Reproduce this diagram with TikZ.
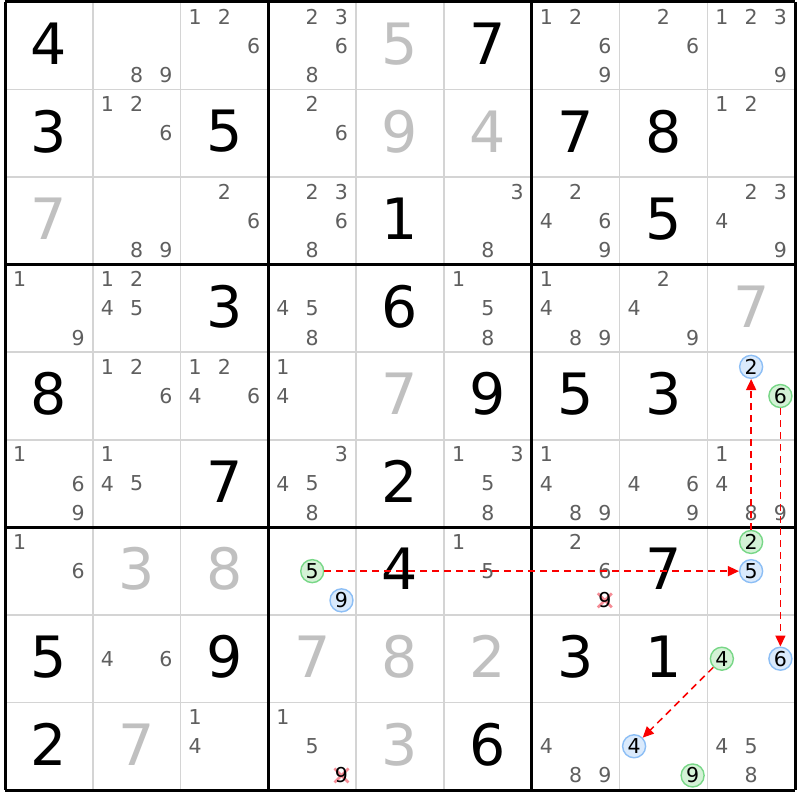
\documentclass[tikz,border=0pt]{standalone}
\usepackage{fontspec}
\setmainfont{DejaVu Sans}
\usetikzlibrary{arrows.meta,calc}
\definecolor{candgray}{RGB}{95,95,95}
\definecolor{solvedgray}{RGB}{192,192,192}
\definecolor{gridgray}{RGB}{212,212,212}
\definecolor{bluefill}{RGB}{218,234,252}
\definecolor{blueline}{RGB}{140,190,245}
\definecolor{greenfill}{RGB}{212,242,214}
\definecolor{greenline}{RGB}{120,215,135}
\definecolor{linkred}{RGB}{250,0,0}
\definecolor{crossred}{RGB}{245,140,150}
\tikzset{
  declare function={
    cx(\c)=5+(\c-0.5)*87.78;
    cy(\r)=2+(\r-0.5)*87.56;
    kx(\c,\d)=5+(\c-1)*87.78+(mod(\d-1,3)+0.5)*29.26;
    ky(\r,\d)=2+(\r-1)*87.56+(floor((\d-1)/3)+0.5)*29.19;
  },
  givenstyle/.style={inner sep=0pt, font=\fontsize{57}{57}\selectfont, text=black},
  solvedstyle/.style={inner sep=0pt, font=\fontsize{57}{57}\selectfont, text=solvedgray},
  candstyle/.style={inner sep=0pt, font=\fontsize{20.5}{20.5}\selectfont, text=candgray},
  blackcand/.style={inner sep=0pt, font=\fontsize{20.5}{20.5}\selectfont, text=black},
  bluec/.style={circle, inner sep=0pt, minimum size=23pt, draw=blueline, fill=bluefill, line width=1.4pt, font=\fontsize{20.5}{20.5}\selectfont, text=black},
  greenc/.style={circle, inner sep=0pt, minimum size=23pt, draw=greenline, fill=greenfill, line width=1.4pt, font=\fontsize{20.5}{20.5}\selectfont, text=black},
  thinline/.style={draw=gridgray, line width=1.5pt},
  thickline/.style={draw=black, line width=3pt},
  crossline/.style={draw=crossred, line width=2.6pt},
  linkarrow/.style={draw=linkred, line width=1.5pt, dash pattern=on 7pt off 5pt, -{Triangle[length=11pt,width=10pt]}},
}
\newcommand{\givendig}[3]{\node[givenstyle] (g#1#2) at ({cx(#2)},{cy(#1)-2}) {#3};}
\newcommand{\solveddig}[3]{\node[solvedstyle] (s#1#2) at ({cx(#2)},{cy(#1)-2}) {#3};}
\newcommand{\cands}[3]{\foreach \d in {#3} {\node[candstyle] (k#1#2\d) at ({kx(#2,\d)},{ky(#1,\d)}) {\d};}}
\newcommand{\bluecand}[3]{\node[bluec] (b#1#2#3) at ({kx(#2,#3)},{ky(#1,#3)}) {#3};}
\newcommand{\greencand}[3]{\node[greenc] (e#1#2#3) at ({kx(#2,#3)},{ky(#1,#3)}) {#3};}
\newcommand{\crossedcand}[3]{%
  \coordinate (x#1#2#3) at ({kx(#2,#3)},{ky(#1,#3)});
  \draw[crossline] ($(x#1#2#3)+(-7,-7)$) -- ($(x#1#2#3)+(7,7)$);
  \draw[crossline] ($(x#1#2#3)+(-7,7)$) -- ($(x#1#2#3)+(7,-7)$);
  \node[blackcand] (k#1#2#3) at (x#1#2#3) {#3};}
\begin{document}
\begin{tikzpicture}[x=1pt,y=-1pt]
\useasboundingbox (0,0) rectangle (800,800);
\fill[white] (0,0) rectangle (800,800);
% grid
\foreach \i in {1,2,4,5,7,8} {
  \draw[thinline] ({5+\i*87.78},2) -- ({5+\i*87.78},790.04);
  \draw[thinline] (5,{2+\i*87.56}) -- (795.02,{2+\i*87.56});
}
\foreach \i in {0,3,6,9} {
  \draw[thickline] ({5+\i*87.78},2) -- ({5+\i*87.78},790.04);
  \draw[thickline] (5,{2+\i*87.56}) -- (795.02,{2+\i*87.56});
}
% row 1
\givendig{1}{1}{4}
\cands{1}{2}{8,9}
\cands{1}{3}{1,2,6}
\cands{1}{4}{2,3,6,8}
\solveddig{1}{5}{5}
\givendig{1}{6}{7}
\cands{1}{7}{1,2,6,9}
\cands{1}{8}{2,6}
\cands{1}{9}{1,2,3,9}
% row 2
\givendig{2}{1}{3}
\cands{2}{2}{1,2,6}
\givendig{2}{3}{5}
\cands{2}{4}{2,6}
\solveddig{2}{5}{9}
\solveddig{2}{6}{4}
\givendig{2}{7}{7}
\givendig{2}{8}{8}
\cands{2}{9}{1,2}
% row 3
\solveddig{3}{1}{7}
\cands{3}{2}{8,9}
\cands{3}{3}{2,6}
\cands{3}{4}{2,3,6,8}
\givendig{3}{5}{1}
\cands{3}{6}{3,8}
\cands{3}{7}{2,4,6,9}
\givendig{3}{8}{5}
\cands{3}{9}{2,3,4,9}
% row 4
\cands{4}{1}{1,9}
\cands{4}{2}{1,2,4,5}
\givendig{4}{3}{3}
\cands{4}{4}{4,5,8}
\givendig{4}{5}{6}
\cands{4}{6}{1,5,8}
\cands{4}{7}{1,4,8,9}
\cands{4}{8}{2,4,9}
\solveddig{4}{9}{7}
% row 5
\givendig{5}{1}{8}
\cands{5}{2}{1,2,6}
\cands{5}{3}{1,2,4,6}
\cands{5}{4}{1,4}
\solveddig{5}{5}{7}
\givendig{5}{6}{9}
\givendig{5}{7}{5}
\givendig{5}{8}{3}
% row 6
\cands{6}{1}{1,6,9}
\cands{6}{2}{1,4,5}
\givendig{6}{3}{7}
\cands{6}{4}{3,4,5,8}
\givendig{6}{5}{2}
\cands{6}{6}{1,3,5,8}
\cands{6}{7}{1,4,8,9}
\cands{6}{8}{4,6,9}
\cands{6}{9}{1,4,8,9}
% row 7
\cands{7}{1}{1,6}
\solveddig{7}{2}{3}
\solveddig{7}{3}{8}
\givendig{7}{5}{4}
\cands{7}{6}{1,5}
\cands{7}{7}{2,6}
\crossedcand{7}{7}{9}
\givendig{7}{8}{7}
% row 8
\givendig{8}{1}{5}
\cands{8}{2}{4,6}
\givendig{8}{3}{9}
\solveddig{8}{4}{7}
\solveddig{8}{5}{8}
\solveddig{8}{6}{2}
\givendig{8}{7}{3}
\givendig{8}{8}{1}
% row 9
\givendig{9}{1}{2}
\solveddig{9}{2}{7}
\cands{9}{3}{1,4}
\cands{9}{4}{1,5}
\crossedcand{9}{4}{9}
\solveddig{9}{5}{3}
\givendig{9}{6}{6}
\cands{9}{7}{4,8,9}
\cands{9}{9}{4,5,8}
% highlighted candidates
\bluecand{5}{9}{2}
\greencand{5}{9}{6}
\greencand{7}{4}{5}
\bluecand{7}{4}{9}
\greencand{7}{9}{2}
\bluecand{7}{9}{5}
\greencand{8}{9}{4}
\bluecand{8}{9}{6}
\bluecand{9}{8}{4}
\greencand{9}{8}{9}
% links
\draw[linkarrow] (e745) -- (b795);
\draw[linkarrow] (e792) -- (b592);
\draw[linkarrow] (e596) -- (b896);
\draw[linkarrow] (e894) -- (b984);
\end{tikzpicture}
\end{document}
